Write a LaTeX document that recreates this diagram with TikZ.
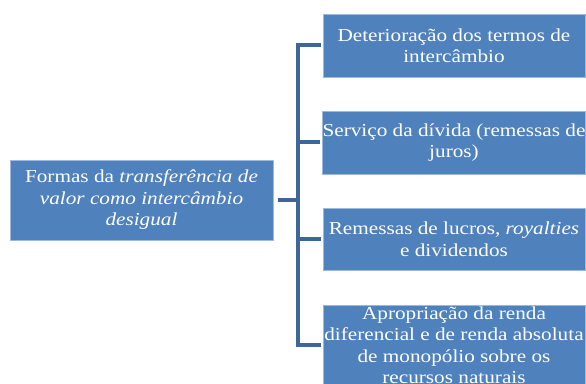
\documentclass[tikz,border=0pt]{standalone}
\usepackage{fontspec}
\setmainfont{Liberation Serif}[FakeStretch=1.16]
\usetikzlibrary{positioning}

\definecolor{boxblue}{HTML}{4F81BD}
\definecolor{linkblue}{HTML}{3E6699}

\tikzset{
  box/.style={draw=boxblue!55!white, line width=0.8pt, fill=boxblue, text=white,
    align=center, inner xsep=0pt, font=\fontsize{18.3}{21.5}\selectfont},
  bracket/.style={draw=linkblue, line width=4pt}
}

\begin{document}
\begin{tikzpicture}[x=1pt,y=1pt]
            \useasboundingbox (0,0) rectangle (586,383);

            \node[box,minimum width=263pt,minimum height=80pt] (Formas) at (141.5, 183) {Formas da \textit{transferência de}\\
                    \textit{valor como intercâmbio}\\
                    \textit{desigual}};

            \node[box,minimum width=262pt,minimum height=63pt] (Deterioracao) at (454, 337.5) {Deterioração dos termos de\\ intercâmbio};
            \node[box,minimum width=262pt,minimum height=63pt] (Servico) at (454, 240.5) {Serviço da dívida (remessas de\\ juros)};
            \node[box,minimum width=262pt,minimum height=62pt] (Remessas) at (454, 144) {Remessas de lucros, \textit{royalties}\\ e dividendos};
            \node[box,minimum width=262pt,minimum height=80pt,inner ysep=0pt] (Apropriacao) at (454, 38) {Apropriação da renda\\
                    diferencial e de renda absoluta\\
                    de monopólio sobre os\\
                    recursos naturais};

            \coordinate (Hub) at (298, 183);
            \draw[bracket] ([xshift=5pt]Formas.east) to (Hub);
            \draw[bracket] ([xshift=-2pt]Deterioracao.west) -| (Hub |- Apropriacao.west) -- ([xshift=-2pt]Apropriacao.west);
            \draw[bracket] (Hub |- Servico.west) to ([xshift=-2pt]Servico.west);
            \draw[bracket] (Hub |- Remessas.west) to ([xshift=-2pt]Remessas.west);

        \end{tikzpicture}
\end{document}
